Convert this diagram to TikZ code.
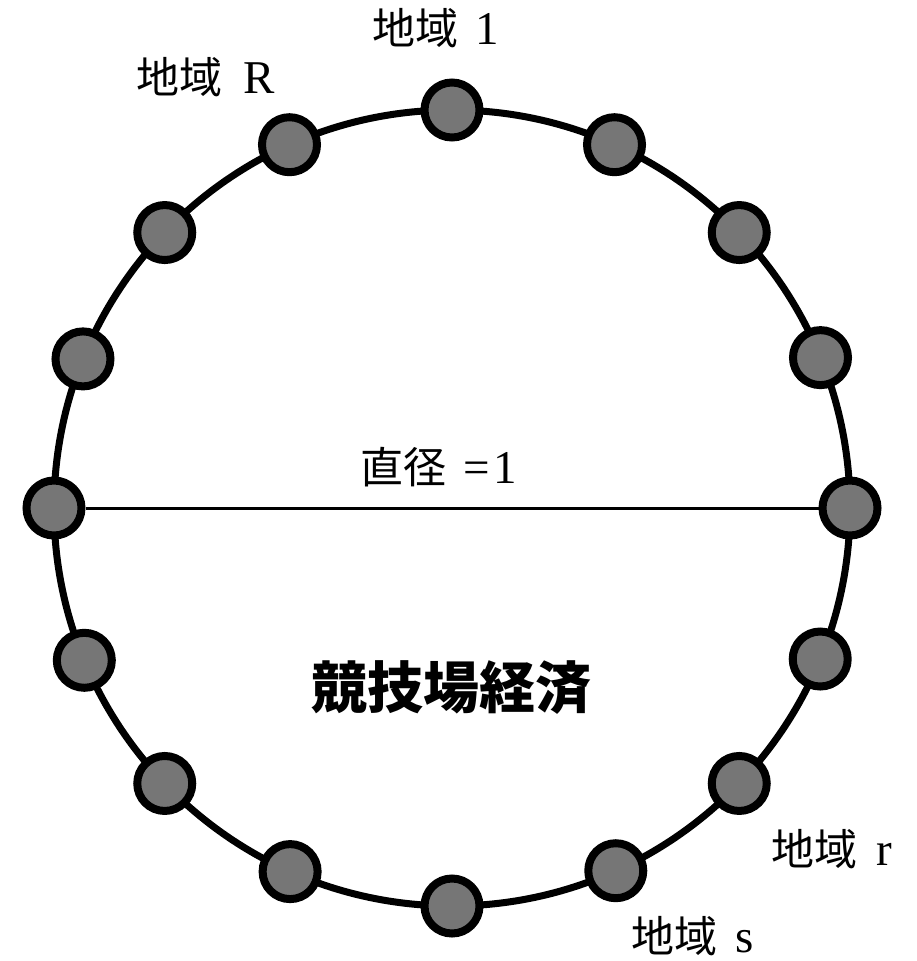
\documentclass[tikz,border=0pt]{standalone}
\usepackage{fontspec}
\setmainfont{Liberation Serif}
\newfontfamily\cjk{Noto Sans CJK JP}
\definecolor{regfill}{RGB}{118,118,118}
\newcommand{\cjtext}[1]{{\cjk\fontsize{43}{48}\selectfont #1}}
\newcommand{\latsize}{\fontsize{47}{52}\selectfont}
\tikzset{
  region/.style={circle, draw=black, line width=8pt, fill=regfill, minimum size=55pt, inner sep=0pt},
  regionlabel/.style={anchor=base west, inner sep=0pt},
  ring/.style={draw=black, line width=7pt},
  diam/.style={draw=black, line width=3pt},
}
\begin{document}
\begin{tikzpicture}[x=1pt,y=-1pt]
\useasboundingbox (0,0) rectangle (917,961);
\coordinate (C) at (452,508);
\draw[ring] (C) circle (398pt);
\foreach \a [count=\i from 0] in {90,65.9,43.8,22.2,0,337.7,316.2,294.3,270,246,223.8,202.5,180,158.0,136.2,114.1}
  \node[region] (n\i) at ({452+398*cos(\a)},{508-398*sin(\a)}) {};
\draw[diam] (n12) -- (n4);
\node[regionlabel] (l1) at (372,44) {\latsize\cjtext{地域}\hspace{17pt}1};
\node[regionlabel] (lR) at (136,93) {\latsize\cjtext{地域}\hspace{21pt}R};
\node[regionlabel] (lr) at (771,865) {\latsize\cjtext{地域}\hspace{19pt}r};
\node[regionlabel] (ls) at (631,952) {\latsize\cjtext{地域}\hspace{18pt}s};
\node[regionlabel] (ld) at (360,483) {\latsize\cjtext{直径}\hspace{17pt}=\hspace{4pt}1};
\node[anchor=base, inner sep=0pt, font=\cjk\bfseries\fontsize{56}{64}\selectfont] (title) at (451,708) {競技場経済};
\end{tikzpicture}
\end{document}
